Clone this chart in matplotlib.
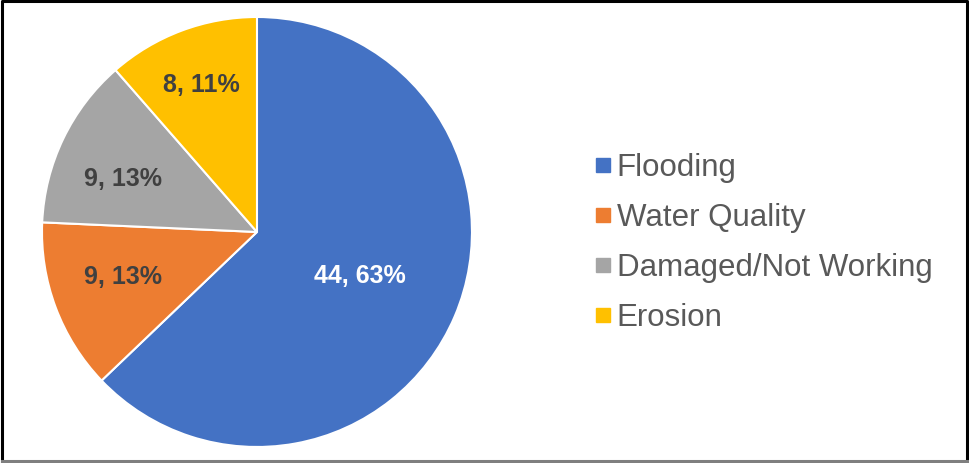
import matplotlib.pyplot as plt
from matplotlib.lines import Line2D
import numpy as np

plt.rcParams['font.family'] = ['Liberation Sans', 'DejaVu Sans']

categories = ['Flooding', 'Water Quality', 'Damaged/Not Working', 'Erosion']
counts = [44, 9, 9, 8]
percents = [63, 13, 13, 11]
colors = ['#4472C4', '#ED7D31', '#A5A5A5', '#FFC000']
label_colors = ['white', '#404040', '#404040', '#404040']
# label distance from centre (fraction of radius) and angle nudge in degrees
label_r = [0.52, 0.655, 0.67, 0.73]
label_nudge = [0, -2, 4, 0]

fig = plt.figure(figsize=(9.69, 4.63), dpi=100)
ax = fig.add_axes([0.0433, 0.0346, 0.4438, 0.9287])

wedges, _ = ax.pie(counts, colors=colors, startangle=90, counterclock=False,
                   radius=1.0, wedgeprops=dict(edgecolor='white', linewidth=1.5))
ax.set_xlim(-1, 1)
ax.set_ylim(-1, 1)
ax.set_aspect('equal')

# data labels
for w, c, p, lc, r, nd in zip(wedges, counts, percents, label_colors, label_r, label_nudge):
    theta = np.deg2rad((w.theta1 + w.theta2) / 2 + nd)
    ax.text(r * np.cos(theta), r * np.sin(theta), f'{c}, {p}%',
            ha='center', va='center', fontsize=18, fontweight='bold', color=lc)

handles = [Line2D([0], [0], marker='s', linestyle='none', markersize=9.5,
                  markerfacecolor=col, markeredgecolor=col) for col in colors]
fig.legend(handles, categories, loc='center left', bbox_to_anchor=(0.58, 0.476),
           frameon=False, fontsize=22.5, labelcolor='#595959', handletextpad=0.05,
           labelspacing=0.64, handlelength=0.8)

# outer border
fig.add_artist(Line2D([0.002, 0.002, 0.998, 0.998], [0.004, 0.997, 0.997, 0.004],
                      transform=fig.transFigure, color='black', linewidth=2.2))
fig.add_artist(Line2D([0.002, 0.998], [0.004, 0.004],
                      transform=fig.transFigure, color='#7f7f7f', linewidth=2.2))

fig.savefig('out.png', dpi=100)
